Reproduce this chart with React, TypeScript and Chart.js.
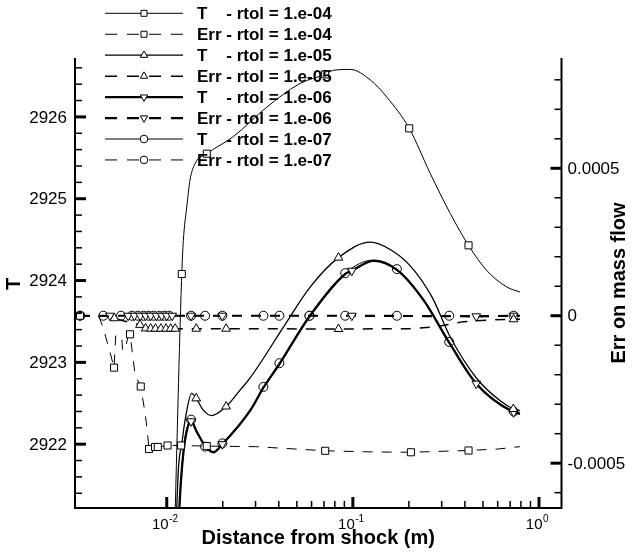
import React, { useEffect, useRef } from "react";
import { Chart, registerables } from "chart.js";
Chart.register(...registerables);

// ---------- data ----------
// T, rtol = 1e-4 (left axis)
const xT4 = [0.0106, 0.0115, 0.01204, 0.01228, 0.01281, 0.01334, 0.01419, 0.01641, 0.0228, 0.0345, 0.0521, 0.071, 0.0787, 0.0971, 0.1243, 0.1524, 0.2008, 0.2603, 0.3336, 0.4182, 0.5253, 0.673, 0.79];
const yT4 = [2919.3, 2922.53, 2924.08, 2924.49, 2924.9, 2925.23, 2925.43, 2925.55, 2925.76, 2926.12, 2926.41, 2926.52, 2926.57, 2926.58, 2926.45, 2926.24, 2925.86, 2925.31, 2924.82, 2924.43, 2924.12, 2923.92, 2923.86];
const mT4 = [0, 0, 1, 0, 0, 0, 0, 1, 0, 0, 0, 1, 0, 0, 0, 0, 1, 0, 0, 1, 0, 0, 0];

// Err, rtol = 1e-4 (right axis)
const xE4 = [0.00342, 0.0043, 0.00455, 0.00496, 0.00521, 0.00532, 0.00573, 0.00579, 0.006, 0.00622, 0.00635, 0.00676, 0.00725, 0.0076, 0.00781, 0.00803, 0.00865, 0.00895, 0.0101, 0.01194, 0.0164, 0.03, 0.071, 0.13, 0.205, 0.4182, 0.6, 0.79];
const yE4 = [0, 0, -0.00004, -0.000125, -0.000176, -0.000068, -0.00007, -0.000118, -0.00011, -0.000065, -0.000063, -0.0002, -0.00024, -0.00032, -0.000375, -0.000452, -0.000445, -0.000445, -0.00044, -0.00044, -0.000442, -0.000444, -0.000458, -0.000462, -0.000463, -0.000457, -0.000452, -0.000444];
const mE4 = [1, 0, 0, 0, 1, 0, 0, 0, 0, 0, 1, 0, 1, 0, 0, 1, 1, 1, 1, 1, 1, 0, 1, 0, 1, 1, 0, 0];

// T, rtol = 1e-5
const xT5 = [0.0108, 0.01154, 0.01204, 0.01254, 0.01362, 0.0144, 0.01568, 0.01746, 0.02084, 0.02477, 0.02805, 0.04235, 0.0589, 0.0837, 0.124, 0.1586, 0.2033, 0.266, 0.3336, 0.4642, 0.619, 0.7276, 0.79];
const yT5 = [2919.8, 2921.68, 2922.0, 2922.29, 2922.62, 2922.56, 2922.42, 2922.35, 2922.46, 2922.66, 2922.81, 2923.43, 2923.92, 2924.28, 2924.47, 2924.38, 2924.18, 2923.8, 2923.31, 2922.8, 2922.53, 2922.43, 2922.41];
const mT5 = [0, 0, 0, 0, 0, 1, 0, 0, 1, 0, 0, 0, 0, 1, 0, 0, 0, 0, 0, 0, 0, 1, 0];

// Err, rtol = 1e-5
const xE5 = [0.00342, 0.0049, 0.00523, 0.0059, 0.00718, 0.0077, 0.0082, 0.0087, 0.0093, 0.0099, 0.0105, 0.0111, 0.0144, 0.02084, 0.0837, 0.2, 0.283, 0.394, 0.551, 0.7303, 0.79];
const yE5 = [0, -0.000002, -0.0000085, -0.000018, -0.000031, -0.000043, -0.000044, -0.000044, -0.000044, -0.000044, -0.000044, -0.000044, -0.000044, -0.000044, -0.000045, -0.000044, -0.000037, -0.00002, -0.000014, -0.000012, -0.000012];
const mE5 = [1, 0, 1, 0, 1, 1, 1, 1, 1, 1, 1, 1, 1, 1, 1, 0, 0, 0, 0, 1, 0];

// T, rtol = 1e-6
const xT6 = [0.011, 0.01169, 0.01204, 0.01254, 0.01351, 0.0145, 0.01607, 0.0178, 0.0199, 0.02805, 0.03306, 0.0403, 0.05844, 0.09093, 0.09877, 0.129, 0.1724, 0.2397, 0.3294, 0.4602, 0.7303, 0.79];
const yT6 = [2919.6, 2921.23, 2921.68, 2922.05, 2922.28, 2922.15, 2921.98, 2921.9, 2922.0, 2922.41, 2922.69, 2922.98, 2923.56, 2924.08, 2924.12, 2924.24, 2924.13, 2923.76, 2923.24, 2922.74, 2922.39, 2922.37];
const mT6 = [0, 0, 0, 0, 1, 0, 0, 0, 1, 0, 0, 0, 0, 0, 1, 0, 0, 0, 0, 1, 1, 0];

// Err, rtol = 1e-6
const xE6 = [0.00342, 0.00496, 0.0062, 0.0067, 0.0072, 0.0077, 0.0082, 0.0088, 0.0094, 0.01, 0.0107, 0.01351, 0.0199, 0.09877, 0.4602, 0.7303, 0.79];
const yE6 = [0, 0, 0, 0, 0, 0, 0, 0, 0, 0, 0, 0, 0, 0, -0.000002, 0, 0];
const mE6 = [1, 1, 1, 1, 1, 1, 1, 1, 1, 1, 1, 1, 1, 1, 1, 1, 0];

// T, rtol = 1e-7
const xT7 = [0.011, 0.01169, 0.01204, 0.01254, 0.01351, 0.0145, 0.01607, 0.0178, 0.0199, 0.02805, 0.03306, 0.0403, 0.05844, 0.09093, 0.129, 0.1724, 0.2397, 0.3294, 0.4602, 0.7303, 0.79];
const yT7 = [2919.5, 2921.2, 2921.7, 2922.08, 2922.3, 2922.16, 2921.97, 2921.91, 2922.01, 2922.42, 2922.7, 2922.99, 2923.57, 2924.09, 2924.25, 2924.14, 2923.77, 2923.25, 2922.75, 2922.4, 2922.38];
const mT7 = [0, 0, 0, 0, 1, 0, 1, 0, 1, 0, 1, 1, 1, 1, 0, 1, 0, 1, 0, 1, 0];

// Err, rtol = 1e-7
const xE7 = [0.00342, 0.00456, 0.00568, 0.0065, 0.007, 0.0075, 0.008, 0.0085, 0.0091, 0.0097, 0.0103, 0.01351, 0.01607, 0.0199, 0.03306, 0.0403, 0.05844, 0.09093, 0.1724, 0.3294, 0.7303, 0.79];
const yE7 = [0, 0, 0, 0, 0, 0, 0, 0, 0, 0, 0, 0, 0, 0, 0, 0, 0, 0, 0, 0, 0, 0];
const mE7 = [1, 1, 1, 1, 1, 1, 1, 1, 1, 1, 1, 1, 1, 1, 1, 1, 1, 1, 1, 1, 1, 0];

// axes
const X_MIN = 0.003214;
const X_MAX = 1.321;
const T_MIN = 2921.22;
const T_MAX = 2926.72;
const E_MIN = -0.000652;
const E_MAX = 0.000874;
const tTicks = [2922, 2923, 2924, 2925, 2926];
const eTicks = [-0.0005, 0, 0.0005];
const eTickLabels = ["-0.0005", "0", "0.0005"];
const xDecades = [0.01, 0.1, 1];
const xDecadeExp = ["-2", "-1", "0"];
const xMinorDecades = [0.01, 0.1];

const X_TITLE = "Distance from shock (m)";
const Y_TITLE = "T";
const Y1_TITLE = "Err on mass flow";

const FONT = '"Liberation Sans", Arial, Helvetica, sans-serif';

type Style = "rect" | "triangle" | "circle";
interface Series {
  label: [string, string];
  xs: number[];
  ys: number[];
  marks: number[];
  axis: "y" | "y1";
  width: number;
  dash: boolean;
  style: Style;
  rot: number;
  r: number;
  smooth: boolean;
}

const SERIES: Series[] = [
  { label: ["T", "- rtol = 1.e-04"], xs: xT4, ys: yT4, marks: mT4, axis: "y", width: 1, dash: false, style: "rect", rot: 0, r: 5, smooth: true },
  { label: ["Err", "- rtol = 1.e-04"], xs: xE4, ys: yE4, marks: mE4, axis: "y1", width: 1, dash: true, style: "rect", rot: 0, r: 5, smooth: false },
  { label: ["T", "- rtol = 1.e-05"], xs: xT5, ys: yT5, marks: mT5, axis: "y", width: 1.3, dash: false, style: "triangle", rot: 0, r: 5, smooth: true },
  { label: ["Err", "- rtol = 1.e-05"], xs: xE5, ys: yE5, marks: mE5, axis: "y1", width: 1.5, dash: true, style: "triangle", rot: 0, r: 5, smooth: false },
  { label: ["T", "- rtol = 1.e-06"], xs: xT6, ys: yT6, marks: mT6, axis: "y", width: 2.3, dash: false, style: "triangle", rot: 180, r: 5, smooth: true },
  { label: ["Err", "- rtol = 1.e-06"], xs: xE6, ys: yE6, marks: mE6, axis: "y1", width: 2.2, dash: true, style: "triangle", rot: 180, r: 5, smooth: false },
  { label: ["T", "- rtol = 1.e-07"], xs: xT7, ys: yT7, marks: mT7, axis: "y", width: 1, dash: false, style: "circle", rot: 0, r: 4.5, smooth: true },
  { label: ["Err", "- rtol = 1.e-07"], xs: xE7, ys: yE7, marks: mE7, axis: "y1", width: 1, dash: true, style: "circle", rot: 0, r: 4.5, smooth: false },
];

function drawMarker(ctx: CanvasRenderingContext2D, style: Style, rot: number, x: number, y: number, r: number) {
  ctx.beginPath();
  if (style === "rect") {
    const s = r * Math.SQRT1_2;
    ctx.rect(x - s, y - s, 2 * s, 2 * s);
  } else if (style === "circle") {
    ctx.arc(x, y, r, 0, Math.PI * 2);
  } else {
    let rad = (rot * Math.PI) / 180;
    ctx.moveTo(x + Math.sin(rad) * r, y - Math.cos(rad) * r);
    rad += (2 * Math.PI) / 3;
    ctx.lineTo(x + Math.sin(rad) * r, y - Math.cos(rad) * r);
    rad += (2 * Math.PI) / 3;
    ctx.lineTo(x + Math.sin(rad) * r, y - Math.cos(rad) * r);
    ctx.closePath();
  }
  ctx.fillStyle = "#fff";
  ctx.fill();
  ctx.lineWidth = 1;
  ctx.setLineDash([]);
  ctx.strokeStyle = "#000";
  ctx.stroke();
}

const tecplotPlugin = {
  id: "tecplotAxes",
  afterDraw(chart: any) {
    const ctx: CanvasRenderingContext2D = chart.ctx;
    const { left, right, top, bottom } = chart.chartArea;
    const sx = chart.scales.x;
    const sy = chart.scales.y;
    const sy1 = chart.scales.y1;
    ctx.save();
    ctx.strokeStyle = "#000";
    ctx.fillStyle = "#000";
    ctx.setLineDash([]);

    // axis lines (left, bottom, right; no top line)
    ctx.lineWidth = 2;
    ctx.lineJoin = "miter";
    ctx.beginPath();
    ctx.moveTo(left, top);
    ctx.lineTo(left, bottom);
    ctx.lineTo(right, bottom);
    ctx.lineTo(right, top);
    ctx.stroke();

    const MAJ = 11;
    const MIN = 7;
    const tick = (x1: number, y1: number, x2: number, y2: number, w: number) => {
      ctx.lineWidth = w;
      ctx.beginPath();
      ctx.moveTo(x1, y1);
      ctx.lineTo(x2, y2);
      ctx.stroke();
    };

    // left axis ticks (inward)
    for (let i = Math.ceil(T_MIN * 5); i <= Math.floor(T_MAX * 5); i++) {
      const v = i / 5;
      const py = sy.getPixelForValue(v);
      const major = i % 5 === 0;
      tick(left, py, left + (major ? MAJ : MIN), py, major ? 3 : 1.5);
    }
    // right axis ticks (inward)
    for (let i = Math.ceil(E_MIN / 0.0001); i <= Math.floor(E_MAX / 0.0001); i++) {
      const v = i * 0.0001;
      const py = sy1.getPixelForValue(v);
      const major = i % 5 === 0;
      tick(right, py, right - (major ? MAJ : MIN), py, major ? 3 : 1.5);
    }
    // bottom axis ticks (inward)
    xDecades.forEach((d) => {
      const px = sx.getPixelForValue(d);
      tick(px, bottom, px, bottom - MAJ, 3);
    });
    xMinorDecades.forEach((d) => {
      for (let m = 2; m <= 9; m++) {
        const px = sx.getPixelForValue(m * d);
        tick(px, bottom, px, bottom - MIN, 1.5);
      }
    });

    // tick labels
    ctx.font = `17px ${FONT}`;
    ctx.textBaseline = "middle";
    ctx.textAlign = "right";
    tTicks.forEach((v) => {
      ctx.fillText(String(v), left - 8, sy.getPixelForValue(v) + 1);
    });
    ctx.textAlign = "left";
    eTicks.forEach((v, i) => {
      ctx.fillText(eTickLabels[i], right + 6, sy1.getPixelForValue(v) + 1);
    });
    ctx.textBaseline = "alphabetic";
    xDecades.forEach((d, i) => {
      const px = sx.getPixelForValue(d);
      ctx.font = `15px ${FONT}`;
      const wb = ctx.measureText("10").width;
      ctx.font = `10px ${FONT}`;
      const we = ctx.measureText(xDecadeExp[i]).width;
      const x0 = px - (wb + we) / 2 - 2;
      ctx.font = `15px ${FONT}`;
      ctx.fillText("10", x0, bottom + 21);
      ctx.font = `10px ${FONT}`;
      ctx.fillText(xDecadeExp[i], x0 + wb + 0.5, bottom + 14);
    });

    // axis titles
    ctx.font = `bold 20px ${FONT}`;
    ctx.textAlign = "center";
    ctx.textBaseline = "alphabetic";
    ctx.fillText(X_TITLE, (left + right) / 2, bottom + 36);
    ctx.textBaseline = "middle";
    ctx.save();
    ctx.translate(14, (top + bottom) / 2 + 1);
    ctx.rotate(-Math.PI / 2);
    ctx.fillText(Y_TITLE, 0, 0);
    ctx.restore();
    ctx.save();
    ctx.translate(619, (top + bottom) / 2);
    ctx.rotate(-Math.PI / 2);
    ctx.fillText(Y1_TITLE, 0, 0);
    ctx.restore();

    // legend
    const LX0 = 105;
    const LX1 = 183;
    const LM = 144;
    const LT = 197;
    const LY0 = 13.3;
    const LDY = 20.95;
    ctx.font = `bold 17px ${FONT}`;
    const errW = ctx.measureText("Err ").width;
    SERIES.forEach((s, i) => {
      const y = LY0 + i * LDY;
      ctx.strokeStyle = "#000";
      ctx.lineWidth = s.width;
      ctx.setLineDash(s.dash ? [12, 10] : []);
      ctx.beginPath();
      ctx.moveTo(LX0, y);
      ctx.lineTo(LX1, y);
      ctx.stroke();
      ctx.setLineDash([]);
      drawMarker(ctx, s.style, s.rot, LM, y, s.r * 0.85);
      ctx.fillStyle = "#000";
      ctx.font = `bold 17px ${FONT}`;
      ctx.textAlign = "left";
      ctx.textBaseline = "alphabetic";
      if (s.label[0] === "Err") {
        ctx.fillText(s.label[0] + " " + s.label[1], LT, y + 6);
      } else {
        ctx.fillText(s.label[0], LT, y + 6);
        ctx.fillText(s.label[1], LT + errW, y + 6);
      }
    });
    ctx.restore();
  },
};

export default function App() {
  const canvasRef = useRef<HTMLCanvasElement | null>(null);
  useEffect(() => {
    if (!canvasRef.current) return;
    const datasets = SERIES.map((s) => ({
      label: s.label.join(" "),
      data: s.xs.map((x, i) => ({ x, y: s.ys[i] })),
      yAxisID: s.axis,
      borderColor: "#000",
      borderWidth: s.width,
      borderDash: s.dash ? [10, 9] : [],
      pointStyle: s.style,
      pointRotation: s.rot,
      pointRadius: (c: any) => (s.marks[c.dataIndex] ? s.r : 0),
      pointBorderWidth: 1,
      pointBorderColor: "#000",
      pointBackgroundColor: "#fff",
      cubicInterpolationMode: s.smooth ? "monotone" : "default",
      tension: 0,
      fill: false,
    }));
    const chart = new Chart(canvasRef.current, {
      type: "line",
      data: { datasets } as any,
      options: {
        animation: false,
        responsive: true,
        maintainAspectRatio: false,
        events: [],
        layout: { padding: { left: 75, right: 71.5, top: 58, bottom: 51 } },
        plugins: { legend: { display: false }, tooltip: { enabled: false } },
        scales: {
          x: { type: "logarithmic", min: X_MIN, max: X_MAX, display: false, bounds: "data" },
          y: { type: "linear", position: "left", min: T_MIN, max: T_MAX, display: false },
          y1: { type: "linear", position: "right", min: E_MIN, max: E_MAX, display: false },
        },
      } as any,
      plugins: [tecplotPlugin],
    });
    return () => chart.destroy();
  }, []);
  return (
    <div style={{ position: "absolute", left: 0, top: 0, width: 633, height: 559, background: "#fff" }}>
      <canvas ref={canvasRef} />
    </div>
  );
}
